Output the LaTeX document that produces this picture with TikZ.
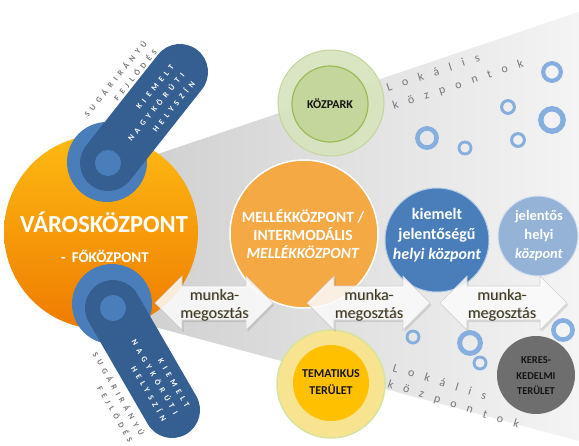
\documentclass[tikz,border=0pt]{standalone}
\usepackage{fontspec}
\setmainfont{Carlito}
\newfontfamily\spcfont[LetterSpace=56]{Carlito}
\newfontfamily\lokfont[LetterSpace=90]{Carlito}
\definecolor{mainTop}{HTML}{FDBA12}
\definecolor{mainBot}{HTML}{EF7B00}
\definecolor{wedgeL}{HTML}{D0D0D0}
\definecolor{wedgeR}{HTML}{F4F4F4}
\definecolor{keyLight}{HTML}{4A7EBB}
\definecolor{keyDark}{HTML}{365F91}
\definecolor{mellFill}{HTML}{F5A945}
\definecolor{kiemFill}{HTML}{4A7EBB}
\definecolor{jelFill}{HTML}{95B3D7}
\definecolor{keresFill}{HTML}{6E6E6E}
\definecolor{parkOuter}{HTML}{D7E4BD}
\definecolor{parkOuterB}{HTML}{C3D69B}
\definecolor{parkInner}{HTML}{C3D69B}
\definecolor{parkInnerB}{HTML}{9BBB59}
\definecolor{temOuter}{HTML}{F8E391}
\definecolor{temOuterB}{HTML}{D7E4A0}
\definecolor{temInner}{HTML}{FFC000}
\definecolor{ringBlue}{HTML}{86AEDF}
\definecolor{munkaText}{HTML}{403A1E}
\definecolor{sugarText}{HTML}{777777}
\newcommand\dblarrowpath[2]{(#1,303) -- (#1+27,276) -- (#1+27,286) -- (#2-27,286) -- (#2-27,276) -- (#2,303) -- (#2-27,330) -- (#2-27,320) -- (#1+27,320) -- (#1+27,330) -- cycle}
\begin{document}
\begin{tikzpicture}[x=1pt,y=-1pt,
  wtext/.style={text=white, align=center, inner sep=0pt},
  dtext/.style={text=black!92, align=center, inner sep=0pt, font=\fontsize{12}{17}\selectfont\bfseries},
  munka/.style={text=munkaText, align=center, inner sep=0pt, font=\fontsize{16}{18}\selectfont},
  munkashadow/.style={munka, text=black!30},
  keytext/.style={text=white, inner sep=0pt, align=right, font=\spcfont\fontsize{8}{13.5}\selectfont\bfseries},
  sugtext/.style={text=sugarText, inner sep=0pt, align=right, font=\spcfont\fontsize{8}{13}\selectfont\bfseries},
  lok/.style={text=sugarText, inner sep=0pt, font=\lokfont\fontsize{12}{14}\selectfont},
  ring/.style={draw=ringBlue},
  arrowbox/.style={fill=white, fill opacity=0.85, draw=black!18, line width=0.6pt},
  arrowshadow/.style={fill=black, fill opacity=0.10}
]
\useasboundingbox (0,0) rectangle (579,445);
\fill[white] (0,0) rectangle (579,445);

% grey wedge
\shade[left color=wedgeL, right color=wedgeR] (140,160) -- (579,12) -- (579,441) -- (140,323) -- cycle;

% main circle
\shade[top color=mainTop, bottom color=mainBot] (101,232) circle[radius=97];

% upper keyhole
\fill[keyLight] (107,162) circle[radius=40];
\draw[keyDark, line width=56pt, line cap=round] (108,163) -- (180,72);
\fill[keyLight] (108,163) circle[radius=13];
% lower keyhole
\fill[keyLight] (112,304) circle[radius=40];
\draw[keyDark, line width=56pt, line cap=round] (113,308) -- (172,410);
\fill[keyLight] (113,308) circle[radius=13];

% other circles
\fill[mellFill, draw=white, line width=1.5pt] (304,234) circle[radius=74];
\fill[kiemFill, draw=white!60!kiemFill, line width=1pt] (437,240) circle[radius=52];
\fill[jelFill, draw=white!60!jelFill, line width=1pt] (538,236) circle[radius=40];
\fill[parkOuter, fill opacity=0.9, draw=parkOuterB, line width=1pt] (331,103) circle[radius=53];
\fill[parkInner, draw=parkInnerB, line width=1.2pt] (330,104) circle[radius=38];
\fill[temOuter, draw=temOuterB, line width=1.5pt] (331,384) circle[radius=54];
\fill[temInner] (331,383) circle[radius=38];
\fill[keresFill] (536,375) circle[radius=39];

% rings
\foreach \x/\y/\r in {552/72/11, 508/107/8, 552/120/14, 427/138/12, 465/148/7.5, 518/140/8,
                     413/337/7.5, 470/343/13, 480/363/7.5, 563/330/12}
  \draw[ring, line width={0.38*\r}] (\x,\y) circle[radius={0.8*\r}];

% munka arrows
\fill[arrowshadow] [shift={(1.5,2)}] \dblarrowpath{155}{273};
\filldraw[arrowbox] \dblarrowpath{155}{273};
\fill[arrowshadow] [shift={(1.5,2)}] \dblarrowpath{307}{430};
\filldraw[arrowbox] \dblarrowpath{307}{430};
\fill[arrowshadow] [shift={(1.5,2)}] \dblarrowpath{440}{567};
\filldraw[arrowbox] \dblarrowpath{440}{567};

\node[munkashadow] (m1s) at (215.3,305.8) {munka-\\megosztás};
\node[munkashadow] (m2s) at (369.8,305.8) {munka-\\megosztás};
\node[munkashadow] (m3s) at (502.8,305.8) {munka-\\megosztás};
\node[munka] (m1) at (214.5,305) {munka-\\megosztás};
\node[munka] (m2) at (369,305) {munka-\\megosztás};
\node[munka] (m3) at (502,305) {munka-\\megosztás};

% circle texts
\node[wtext, font=\fontsize{24.5}{28}\selectfont\bfseries] (vk) at (104,222) {VÁROSKÖZPONT};
\node[wtext, font=\fontsize{15}{18}\selectfont\bfseries] (fk) at (105,256) {-\hspace{6pt}FŐKÖZPONT};
\node[wtext, font=\fontsize{15.5}{18}\selectfont\bfseries] (mk) at (303,234) {MELLÉKKÖZPONT /\\INTERMODÁLIS\\\textit{MELLÉKKÖZPONT}};
\node[wtext, font=\fontsize{16}{20}\selectfont\bfseries] (ki) at (437,235) {kiemelt\\jelentőségű\\\textit{helyi központ}};
\node[wtext, font=\fontsize{14.5}{19}\selectfont\bfseries] (je) at (539,236) {jelentős\\helyi\\\textit{központ}};
\node[dtext] (kp) at (330,104) {KÖZPARK};
\node[dtext] (tm) at (331,382) {TEMATIKUS\\TERÜLET};
\node[dtext, font=\fontsize{10.5}{15.5}\selectfont\bfseries] (kr) at (536,376) {KERES-\\KEDELMI\\TERÜLET};

% keyhole texts
\node[keytext, rotate=51, anchor=east] (kt1) at (183,74) {KIEMELT\\NAGYKÖRÚTI\\HELYSZÍN};
\node[sugtext, rotate=51, anchor=east] (st1) at (150,46) {SUGÁRIRÁNYÚ\\FEJLŐDÉS};
\node[keytext, rotate=-60, anchor=east] (kt2) at (176,414) {KIEMELT\\NAGYKÖRÚTI\\HELYSZÍN};
\node[sugtext, rotate=-60, anchor=east] (st2) at (137,438) {SUGÁRIRÁNYÚ\\FEJLŐDÉS};

% Lokális központok
\node[lok, rotate=18.5, anchor=base west] (la1) at (388,92) {Lokális};
\node[lok, rotate=18.5, anchor=base west] (lb1) at (394,110) {központok};
\node[lok, rotate=-17.5, anchor=base west] (la2) at (392,371) {Lokális};
\node[lok, rotate=-17.5, anchor=base west] (lb2) at (387,387) {központok};
\end{tikzpicture}
\end{document}
